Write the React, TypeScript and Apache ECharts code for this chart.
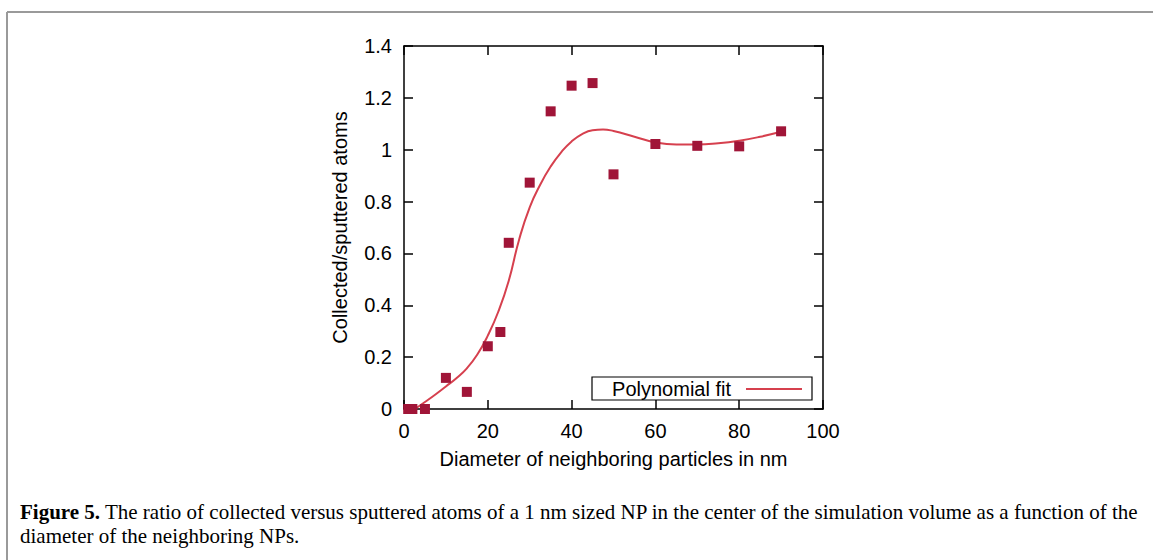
import React, { useEffect, useRef } from "react";
import * as echarts from "echarts";

// Measured points: diameter of neighbouring particles (nm) vs collected/sputtered ratio
const diameters = [1, 2, 5, 10, 15, 20, 23, 25, 30, 35, 40, 45, 50, 60, 70, 80, 90];
const ratios = [0, 0, 0, 0.12, 0.066, 0.242, 0.297, 0.641, 0.873, 1.148, 1.247, 1.257, 0.905, 1.022, 1.015, 1.013, 1.071];

// Polynomial fit curve
const fitX = [2.6, 5, 7.5, 10, 12.5, 15, 17.5, 20, 22.5, 25, 27.5, 30, 32.5, 35, 37.5, 40, 42.5, 45, 47.5, 50, 55, 60, 65, 70, 75, 80, 85, 90];
const fitY = [0, 0.027, 0.056, 0.087, 0.119, 0.157, 0.21, 0.283, 0.375, 0.495, 0.655, 0.778, 0.865, 0.935, 0.99, 1.032, 1.06, 1.075, 1.078, 1.072, 1.05, 1.028, 1.02, 1.02, 1.025, 1.035, 1.05, 1.069];

const xTicks = { min: 0, max: 100, interval: 20 };
const yTicks = { min: 0, max: 1.4, interval: 0.2 };

const seriesName = "Polynomial fit";
const xName = "Diameter of neighboring particles in nm";
const yName = "Collected/sputtered atoms";
const captionBold = "Figure 5.";
const captionLine1 = " The ratio of collected versus sputtered atoms of a 1 nm sized NP in the center of the simulation volume as a function of the";
const captionLine2 = "diameter of the neighboring NPs.";

const SANS = "Liberation Sans, Arial, sans-serif";
const SERIF = "Liberation Serif, Times New Roman, serif";
const pointColor = "#a01538";
const lineColor = "#d6404e";

export default function App() {
  const ref = useRef<HTMLDivElement>(null);

  useEffect(() => {
    if (!ref.current) return;
    const chart = echarts.init(ref.current, null, { renderer: "svg" });

    const axisLine = { show: true, onZero: false, lineStyle: { color: "#000", width: 1.5 } };
    const axisTick = { show: true, inside: true, length: 9, lineStyle: { color: "#000", width: 1.5 } };
    const label = { color: "#000", fontSize: 20, fontFamily: SANS };

    const option: any = {
      animation: false,
      backgroundColor: "#fff",
      grid: { left: 404, top: 46, width: 419, height: 363, containLabel: false },
      xAxis: [
        {
          type: "value",
          position: "bottom",
          ...xTicks,
          axisLine,
          axisTick,
          axisLabel: { ...label, margin: 12 },
          splitLine: { show: false },
          name: xName,
          nameLocation: "middle",
          nameGap: 40,
          nameTextStyle: { ...label },
        },
        {
          type: "value",
          position: "top",
          ...xTicks,
          axisLine,
          axisTick,
          axisLabel: { show: false },
          splitLine: { show: false },
        },
      ],
      yAxis: [
        {
          type: "value",
          position: "left",
          ...yTicks,
          axisLine,
          axisTick,
          axisLabel: { ...label, margin: 12 },
          splitLine: { show: false },
          name: yName,
          nameLocation: "middle",
          nameGap: 54,
          nameTextStyle: { ...label },
        },
        {
          type: "value",
          position: "right",
          ...yTicks,
          axisLine,
          axisTick,
          axisLabel: { show: false },
          splitLine: { show: false },
        },
      ],
      series: [
        {
          type: "scatter",
          name: "data",
          data: diameters.map((d, i) => [d, ratios[i]]),
          symbol: "rect",
          symbolSize: 10,
          itemStyle: { color: pointColor, opacity: 1 },
          z: 3,
        },
        {
          type: "line",
          name: seriesName,
          data: fitX.map((d, i) => [d, fitY[i]]),
          smooth: 0.5,
          showSymbol: false,
          symbol: "none",
          lineStyle: { color: lineColor, width: 2 },
          z: 2,
        },
      ],
      graphic: [
        // outer frame
        { type: "line", shape: { x1: 7, y1: 12, x2: 1153, y2: 12 }, style: { stroke: "#9a9a9a", lineWidth: 2 } },
        { type: "line", shape: { x1: 7, y1: 12, x2: 7, y2: 560 }, style: { stroke: "#9a9a9a", lineWidth: 2 } },
        // legend
        {
          type: "rect",
          shape: { x: 592, y: 377, width: 220, height: 23 },
          style: { fill: "#fff", stroke: "#000", lineWidth: 1.2 },
          z: 10,
        },
        {
          type: "text",
          x: 731,
          y: 389,
          style: { text: seriesName, align: "right", verticalAlign: "middle", font: `20px ${SANS}`, fill: "#000" },
          z: 11,
        },
        {
          type: "line",
          shape: { x1: 746, y1: 389, x2: 802, y2: 389 },
          style: { stroke: lineColor, lineWidth: 2 },
          z: 11,
        },
        // caption
        {
          type: "text",
          x: 20,
          y: 500,
          style: {
            text: `{b|${captionBold}}{n|${captionLine1}}\n{n|${captionLine2}}`,
            rich: {
              b: { fontFamily: SERIF, fontSize: 21, fontWeight: "bold", fill: "#000", lineHeight: 24 },
              n: { fontFamily: SERIF, fontSize: 21, fill: "#000", lineHeight: 24 },
            },
            verticalAlign: "top",
          },
        },
      ],
    };

    chart.setOption(option);
    return () => chart.dispose();
  }, []);

  return <div ref={ref} style={{ position: "absolute", left: 0, top: 0, width: 1153, height: 560 }} />;
}
